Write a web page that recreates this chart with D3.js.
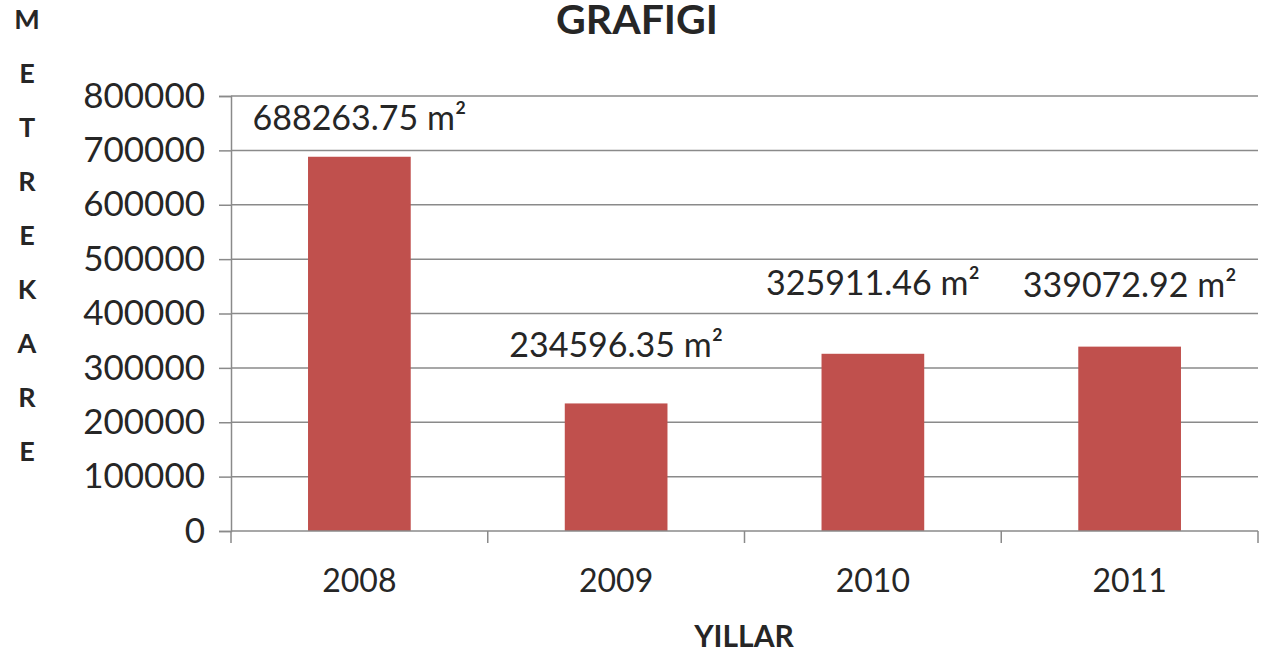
<!DOCTYPE html>
<html>
<head>
<meta charset="utf-8">
<script src="https://cdn.jsdelivr.net/npm/d3@7"></script>
<style>
  html, body { margin: 0; padding: 0; background: #ffffff; }
  svg { display: block; }
  text { font-family: Lato, "Open Sans", sans-serif; fill: #262626; }
</style>
</head>
<body>
<svg id="chart" width="1269" height="657"></svg>
<script>
// Yearly area figures (square metres)
const years = ["2008", "2009", "2010", "2011"];
const areas = [688263.75, 234596.35, 325911.46, 339072.92];
const yTicks = [0, 100000, 200000, 300000, 400000, 500000, 600000, 700000, 800000];
const yTitleLetters = ["M", "E", "T", "R", "E", "K", "A", "R", "E"];

// Hand-tuned lift of each value label above its bar (px)
const labelLift = [27, 46, 59, 50];

const svg = d3.select("#chart");
const plot = { left: 231, right: 1258, top: 96, bottom: 531 };

const x = d3.scaleBand()
  .domain(years)
  .range([plot.left, plot.right])
  .paddingInner(0.6)
  .paddingOuter(0.3);

const y = d3.scaleLinear()
  .domain([0, 800000])
  .range([plot.bottom, plot.top]);

const gridColor = "#8a8a8a";

// Horizontal gridlines
svg.append("g")
  .selectAll("line")
  .data(yTicks.filter(d => d > 0))
  .join("line")
  .attr("x1", plot.left)
  .attr("x2", plot.right)
  .attr("y1", d => y(d))
  .attr("y2", d => y(d))
  .attr("stroke", gridColor)
  .attr("stroke-width", 1.5);

// Bars
svg.append("g")
  .selectAll("rect")
  .data(years.map((yr, i) => ({ yr, v: areas[i] })))
  .join("rect")
  .attr("x", d => x(d.yr))
  .attr("width", x.bandwidth())
  .attr("y", d => y(d.v))
  .attr("height", d => y(0) - y(d.v))
  .attr("fill", "#C0504D");

// Y axis
const yAxis = svg.append("g")
  .attr("transform", `translate(${plot.left},0)`)
  .call(d3.axisLeft(y).tickValues(yTicks).tickSize(12).tickPadding(14).tickFormat(d3.format("d")));
yAxis.select(".domain").attr("stroke", gridColor).attr("stroke-width", 1.5);
yAxis.selectAll(".tick line").attr("stroke", gridColor).attr("stroke-width", 1.5);
yAxis.selectAll(".tick text")
  .attr("fill", "#262626")
  .style("font-family", "Lato, 'Open Sans', sans-serif")
  .style("font-size", "35px");

// X axis: category boundaries carry the tick marks
const xAxisG = svg.append("g");
xAxisG.append("line")
  .attr("x1", plot.left).attr("x2", plot.right)
  .attr("y1", plot.bottom).attr("y2", plot.bottom)
  .attr("stroke", gridColor).attr("stroke-width", 1.5);
const bounds = d3.range(years.length + 1).map(i => plot.left + (plot.right - plot.left) * i / years.length);
xAxisG.selectAll("line.b")
  .data(bounds)
  .join("line")
  .attr("class", "b")
  .attr("x1", d => d).attr("x2", d => d)
  .attr("y1", plot.bottom).attr("y2", plot.bottom + 12)
  .attr("stroke", gridColor).attr("stroke-width", 1.5);
xAxisG.selectAll("text")
  .data(years)
  .join("text")
  .attr("x", d => x(d) + x.bandwidth() / 2)
  .attr("y", 592)
  .attr("text-anchor", "middle")
  .style("font-size", "32px")
  .text(d => d);

// Value labels
svg.append("g")
  .selectAll("text")
  .data(years.map((yr, i) => ({ yr, v: areas[i], lift: labelLift[i] })))
  .join("text")
  .attr("x", d => x(d.yr) + x.bandwidth() / 2)
  .attr("y", d => y(d.v) - d.lift)
  .attr("text-anchor", "middle")
  .style("font-size", "34px")
  .text(d => d3.format(".2f")(d.v) + " m²");

// Title
svg.append("text")
  .attr("x", 637)
  .attr("y", 34)
  .attr("text-anchor", "middle")
  .style("font-size", "41px")
  .style("font-weight", "bold")
  .attr("fill", "#0d0d0d")
  .text("GRAFIGI");

// Vertical axis title, one letter per line
svg.append("g")
  .selectAll("text")
  .data(yTitleLetters)
  .join("text")
  .attr("x", 27)
  .attr("y", (d, i) => 29 + i * 54)
  .attr("text-anchor", "middle")
  .style("font-size", "27px")
  .style("font-weight", "bold")
  .attr("fill", "#0d0d0d")
  .text(d => d);

// Horizontal axis title
svg.append("text")
  .attr("x", 744)
  .attr("y", 647)
  .attr("text-anchor", "middle")
  .style("font-size", "30px")
  .style("font-weight", "bold")
  .attr("fill", "#0d0d0d")
  .text("YILLAR");
</script>
</body>
</html>
